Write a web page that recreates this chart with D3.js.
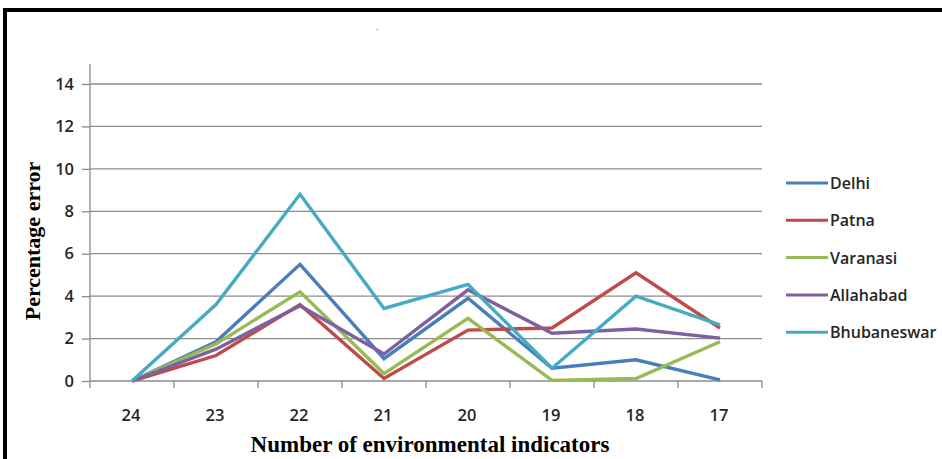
<!DOCTYPE html>
<html>
<head>
<meta charset="utf-8">
<script src="https://cdn.jsdelivr.net/npm/d3@7"></script>
<style>
  body { margin: 0; background: #fff; }
  svg { display: block; }
</style>
</head>
<body>
<script>
// indicator counts along the x axis
var categories = ["24", "23", "22", "21", "20", "19", "18", "17"];
var cities = ["Delhi", "Patna", "Varanasi", "Allahabad", "Bhubaneswar"];
var delhi       = [0, 1.85, 5.5, 1.05, 3.9, 0.6, 1.0, 0.05];
var patna       = [0, 1.2, 3.6, 0.12, 2.4, 2.5, 5.1, 2.5];
var varanasi    = [0, 1.75, 4.2, 0.35, 2.95, 0.03, 0.12, 1.85];
var allahabad   = [0, 1.5, 3.55, 1.27, 4.3, 2.25, 2.45, 2.02];
var bhubaneswar = [0, 3.6, 8.8, 3.42, 4.55, 0.6, 4.0, 2.65];
var yTicks = [0, 2, 4, 6, 8, 10, 12, 14];
var colors = ["#4A7EBB", "#BE4B48", "#98B954", "#7D60A0", "#46AAC5"];

var series = [delhi, patna, varanasi, allahabad, bhubaneswar];

var W = 942, H = 459;
var labelFont = "'Open Sans', Lato, sans-serif";
var svg = d3.select("body").append("svg")
    .attr("width", W)
    .attr("height", H);

// outer frame (black border, cut at the right and bottom)
svg.append("rect")
    .attr("x", 5).attr("y", 10)
    .attr("width", W + 20).attr("height", H + 20)
    .attr("fill", "none")
    .attr("stroke", "#000")
    .attr("stroke-width", 4);

var plot = { left: 90, right: 762, top: 84, bottom: 381 };

var x = d3.scaleBand()
    .domain(categories)
    .range([plot.left, plot.right]);

var y = d3.scaleLinear()
    .domain([0, 14])
    .range([plot.bottom, plot.top]);

var g = svg.append("g");

// horizontal gridlines
g.selectAll(".grid")
    .data(yTicks.filter(function(d) { return d > 0; }))
    .enter()
    .append("line")
    .attr("x1", plot.left).attr("x2", plot.right)
    .attr("y1", function(d) { return y(d); })
    .attr("y2", function(d) { return y(d); })
    .attr("stroke", "#8c8c8c")
    .attr("stroke-width", 1.3);

// y axis
var yAxis = d3.axisLeft(y).tickValues(yTicks).tickSize(8).tickPadding(10);
var ya = svg.append("g")
    .attr("transform", "translate(" + plot.left + ",0)")
    .call(yAxis);
ya.select(".domain").attr("stroke", "#8c8c8c").attr("stroke-width", 1.3)
    .attr("d", "M-0," + (plot.top - 20) + "V" + plot.bottom);
ya.selectAll(".tick line").attr("stroke", "#8c8c8c").attr("stroke-width", 1.3);
ya.selectAll(".tick text")
    .style("font-family", labelFont)
    .style("font-size", "16.5px")
    .style("font-weight", "600")
    .attr("dx", 2)
    .attr("fill", "#262626");

// x axis: ticks at band boundaries
var xa = svg.append("g")
    .attr("transform", "translate(0," + plot.bottom + ")");
xa.append("line")
    .attr("x1", plot.left).attr("x2", plot.right)
    .attr("stroke", "#8c8c8c").attr("stroke-width", 1.3);
var bounds = categories.map(function(c) { return x(c); }).concat([plot.right]);
xa.selectAll(".xt")
    .data(bounds)
    .enter()
    .append("line")
    .attr("x1", function(d) { return d; })
    .attr("x2", function(d) { return d; })
    .attr("y1", 0).attr("y2", 7)
    .attr("stroke", "#8c8c8c").attr("stroke-width", 1.3);
xa.selectAll(".xl")
    .data(categories)
    .enter()
    .append("text")
    .attr("x", function(d) { return x(d) + x.bandwidth() / 2 - 1; })
    .attr("y", 40)
    .attr("text-anchor", "middle")
    .style("font-family", labelFont)
    .style("font-size", "16.5px")
    .style("font-weight", "600")
    .attr("fill", "#262626")
    .text(function(d) { return d; });

// lines
var line = d3.line()
    .x(function(d, i) { return x(categories[i]) + x.bandwidth() / 2; })
    .y(function(d) { return y(d); });

svg.selectAll(".series")
    .data(series)
    .enter()
    .append("path")
    .attr("d", line)
    .attr("fill", "none")
    .attr("stroke", function(d, i) { return colors[i]; })
    .attr("stroke-width", 3.4)
    .attr("stroke-linejoin", "miter");

// legend
var leg = svg.selectAll(".leg")
    .data(cities)
    .enter()
    .append("g")
    .attr("transform", function(d, i) { return "translate(786," + (183 + i * 37.3) + ")"; });
leg.append("line")
    .attr("x1", 0).attr("x2", 42)
    .attr("stroke", function(d, i) { return colors[i]; })
    .attr("stroke-width", 3);
leg.append("text")
    .attr("x", 44).attr("y", 6)
    .style("font-family", labelFont)
    .style("font-size", "16px")
    .style("font-weight", "600")
    .attr("fill", "#262626")
    .text(function(d) { return d; });

// axis titles
svg.append("text")
    .attr("x", 430).attr("y", 452)
    .attr("text-anchor", "middle")
    .style("font-family", "'Liberation Serif', 'Times New Roman', serif")
    .style("font-weight", "bold")
    .style("font-size", "23px")
    .text("Number of environmental indicators");

svg.append("text")
    .attr("transform", "translate(40,241) rotate(-90)")
    .attr("text-anchor", "middle")
    .style("font-family", "'Liberation Serif', 'Times New Roman', serif")
    .style("font-weight", "bold")
    .style("font-size", "22px")
    .text("Percentage error");

// stray mark near the top
svg.append("text")
    .attr("x", 375).attr("y", 32)
    .style("font-family", "Lato, sans-serif")
    .style("font-size", "10px")
    .attr("fill", "#999")
    .text("-");
</script>
</body>
</html>
